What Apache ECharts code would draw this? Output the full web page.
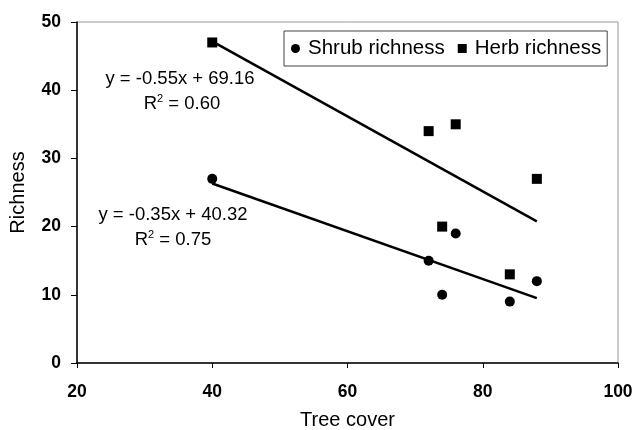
<!DOCTYPE html>
<html><head><meta charset="utf-8">
<script src="https://cdn.jsdelivr.net/npm/echarts@6/dist/echarts.min.js"></script>
<style>html,body{margin:0;padding:0;background:#fff}#c{width:636px;height:430px}</style>
</head><body><div id="c"></div>
<script>
const shrubX = [40, 76, 72, 74, 84, 88];
const shrubY = [27, 19, 15, 10, 9, 12];
const herbX = [40, 72, 76, 88, 74, 84];
const herbY = [47, 34, 35, 27, 20, 13];
const shrubFit = {slope: -0.35, intercept: 40.32, r2: '0.75'};
const herbFit = {slope: -0.55, intercept: 69.16, r2: '0.60'};
const fitRange = [40, 88];
const xTicks = [20, 40, 60, 80, 100];
const yTicks = [0, 10, 20, 30, 40, 50];

const FONT = 'Liberation Sans, Arial, sans-serif';
const zip = (xs, ys) => xs.map((x, i) => [x, ys[i]]);
const fitLine = f => fitRange.map(x => [x, +(f.slope * x + f.intercept).toFixed(2)]);
const eq = f => 'y = ' + f.slope.toFixed(2) + 'x + ' + f.intercept.toFixed(2);

const chart = echarts.init(document.getElementById('c'), null, {renderer: 'canvas'});
const txt = {fontFamily: FONT, fontSize: 18.5, fill: '#000', align: 'center', verticalAlign: 'middle'};
const supRich = {s: {fontFamily: FONT, fontSize: 11, fill: '#000', verticalAlign: 'top', padding: [0, 0, 10, 0]}};
chart.setOption({
  animation: false,
  backgroundColor: '#fff',
  grid: {left: 77, right: 18, top: 22, bottom: 67, show: true, borderColor: '#999', borderWidth: 1,
         containLabel: false, outerBoundsMode: 'none'},
  xAxis: {
    type: 'value', min: xTicks[0], max: xTicks[xTicks.length - 1], interval: 20,
    name: 'Tree cover', nameLocation: 'middle', nameGap: 47,
    nameTextStyle: {fontFamily: FONT, fontSize: 20, color: '#000'},
    axisLine: {lineStyle: {color: '#000', width: 1.5}},
    axisTick: {show: true, length: 5, lineStyle: {color: '#000'}},
    axisLabel: {fontFamily: FONT, fontSize: 17.5, fontWeight: 'bold', color: '#000', margin: 20},
    splitLine: {show: false}
  },
  yAxis: {
    type: 'value', min: yTicks[0], max: yTicks[yTicks.length - 1], interval: 10,
    name: 'Richness', nameLocation: 'middle', nameGap: 49, nameRotate: 90,
    nameTextStyle: {fontFamily: FONT, fontSize: 20, color: '#000'},
    axisLine: {show: true, lineStyle: {color: '#000', width: 1.5}},
    axisTick: {show: true, length: 6, lineStyle: {color: '#000'}},
    axisLabel: {fontFamily: FONT, fontSize: 17.5, fontWeight: 'bold', color: '#000', margin: 16},
    splitLine: {show: false}
  },
  legend: {
    left: 284, top: 31, padding: [7, 6, 7, 7], itemGap: 13,
    borderColor: '#444', borderWidth: 1, itemWidth: 9, itemHeight: 9,
    textStyle: {fontFamily: FONT, fontSize: 20.5, color: '#000', padding: [0, 0, 0, 3]},
    data: [{name: 'Shrub richness', icon: 'circle'}, {name: 'Herb richness', icon: 'rect'}]
  },
  series: [
    {name: 'Shrub richness', type: 'scatter', symbol: 'circle', symbolSize: 10,
     itemStyle: {color: '#000', opacity: 1}, data: zip(shrubX, shrubY), z: 5},
    {name: 'Herb richness', type: 'scatter', symbol: 'rect', symbolSize: 10,
     itemStyle: {color: '#000', opacity: 1}, data: zip(herbX, herbY), z: 5},
    {name: 'shrubFit', type: 'line', data: fitLine(shrubFit), symbol: 'none',
     lineStyle: {color: '#000', width: 2.5}, silent: true},
    {name: 'herbFit', type: 'line', data: fitLine(herbFit), symbol: 'none',
     lineStyle: {color: '#000', width: 2.5}, silent: true}
  ],
  graphic: [
    {type: 'text', style: Object.assign({}, txt, {text: eq(herbFit), x: 180, y: 79})},
    {type: 'text', style: Object.assign({}, txt, {text: 'R{s|2} = ' + herbFit.r2, x: 182, y: 104, rich: supRich})},
    {type: 'text', style: Object.assign({}, txt, {text: eq(shrubFit), x: 173, y: 215})},
    {type: 'text', style: Object.assign({}, txt, {text: 'R{s|2} = ' + shrubFit.r2, x: 173, y: 240, rich: supRich})}
  ]
});
</script></body></html>
